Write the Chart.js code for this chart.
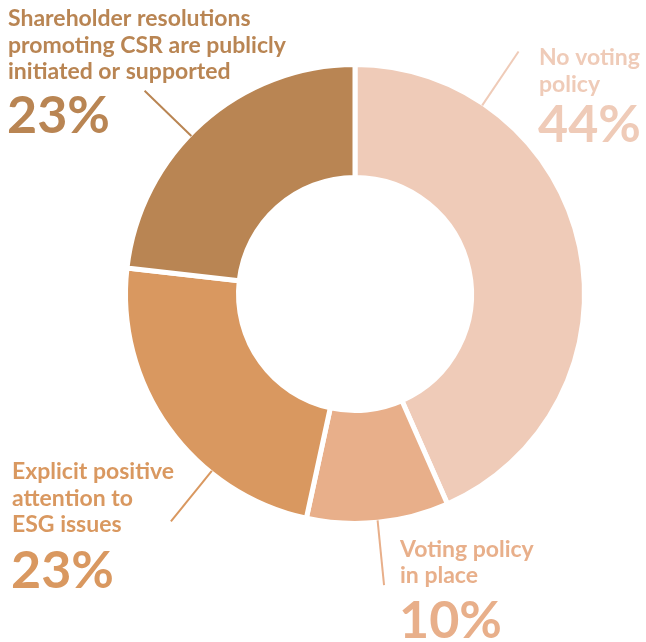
<!DOCTYPE html>
<html>
<head>
<meta charset="utf-8">
<script src="https://cdn.jsdelivr.net/npm/chart.js@4"></script>
<style>
  html, body { margin: 0; padding: 0; background: #fff; }
  #wrap { width: 646px; height: 642px; }
</style>
</head>
<body>
<div id="wrap"><canvas id="voteChart" width="646" height="642"></canvas></div>
<script>
// Data (clockwise from 12 o'clock)
const categories = [
  "No voting\npolicy",
  "Voting policy\nin place",
  "Explicit positive\nattention to\nESG issues",
  "Shareholder resolutions\npromoting CSR are publicly\ninitiated or supported"
];
// slice sizes as drawn (measured from the arc angles)
const shares = [43.4, 10, 23.4, 23.2];
// percentages as printed on the chart
const shareLabels = ["44%", "10%", "23%", "23%"];
const sliceColors = ["#EFCBB8", "#E8AF8A", "#D99860", "#B98553"];

// label placement: text anchor, line gap, gap to the big number,
// and angle (deg, clockwise from top) of the leader line
const labelLayout = [
  { x: 539, y: 65,  lineGap: 27,   pctGap: 50, angle: 34 },
  { x: 400, y: 557, lineGap: 26,   pctGap: 55, angle: 174.3 },
  { x: 12,  y: 479, lineGap: 26.5, pctGap: 56, angle: 219 },
  { x: 8,   y: 26,  lineGap: 26.5, pctGap: 54, angle: 314 }
];

const textFont = "Lato";

const calloutPlugin = {
  id: "callouts",
  afterDraw(chart) {
    const ctx = chart.ctx;
    const meta = chart.getDatasetMeta(0);
    const arc0 = meta.data[0];
    const cx = arc0.x, cy = arc0.y;
    const rOuter = arc0.outerRadius;
    ctx.save();
    meta.data.forEach((arc, i) => {
      const lay = labelLayout[i];
      const color = sliceColors[i];
      // leader line
      const a = lay.angle * Math.PI / 180;
      const r1 = rOuter - 2, r2 = rOuter + 63;
      ctx.strokeStyle = color;
      ctx.lineWidth = 2;
      ctx.beginPath();
      ctx.moveTo(cx + Math.sin(a) * r1, cy - Math.cos(a) * r1);
      ctx.lineTo(cx + Math.sin(a) * r2, cy - Math.cos(a) * r2);
      ctx.stroke();
      // text
      ctx.fillStyle = color;
      ctx.textAlign = "left";
      ctx.textBaseline = "alphabetic";
      ctx.font = "bold 23px " + textFont;
      const lines = categories[i].split("\n");
      lines.forEach((ln, k) => ctx.fillText(ln, lay.x, lay.y + k * lay.lineGap));
      ctx.font = "bold 52px " + textFont;
      const lastY = lay.y + (lines.length - 1) * lay.lineGap;
      ctx.fillText(shareLabels[i], lay.x - 1, lastY + lay.pctGap);
    });
    ctx.restore();
  }
};

const ctx = document.getElementById("voteChart").getContext("2d");
const chart = new Chart(ctx, {
  type: "doughnut",
  data: {
    labels: categories,
    datasets: [{
      data: shares,
      backgroundColor: sliceColors,
      borderColor: "#ffffff",
      borderWidth: 5,
      hoverOffset: 0
    }]
  },
  options: {
    responsive: false,
    animation: false,
    radius: 229.5,
    cutout: 115,
    layout: { padding: { left: 126, right: 62, top: 65, bottom: 119 } },
    plugins: {
      legend: { display: false },
      tooltip: { enabled: false }
    }
  },
  plugins: [calloutPlugin]
});
</script>
</body>
</html>
